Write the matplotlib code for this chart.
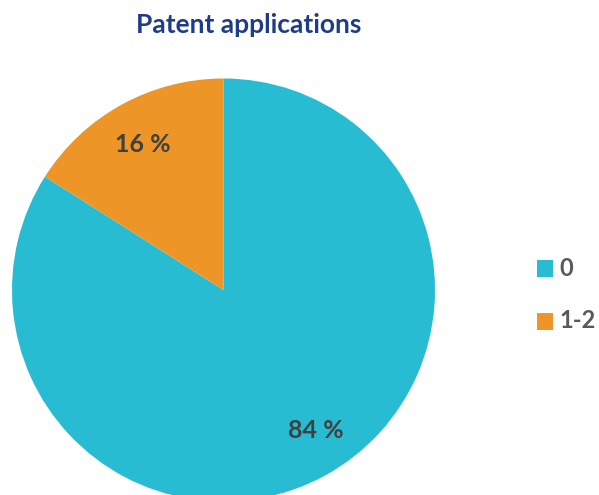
import matplotlib.pyplot as plt
from matplotlib.patches import Rectangle

categories = ['0', '1-2']
shares = [84, 16]
colors = ['#27BCD1', '#EE9527']

plt.rcParams['font.family'] = ['Lato', 'DejaVu Sans']

fig = plt.figure(figsize=(5.99, 4.95), dpi=100)
ax = fig.add_axes([0, 0, 1, 1])

ax.pie(shares, colors=colors, startangle=90, counterclock=False,
       center=(223.5, 205), radius=211.5, frame=True)
ax.set_xlim(0, 599)
ax.set_ylim(0, 495)
ax.set_aspect('equal')
ax.axis('off')

ax.text(143, 350, f'{shares[1]} %', ha='center', va='center', fontsize=18,
        fontweight='bold', color='#404040')
ax.text(316, 65, f'{shares[0]} %', ha='center', va='center', fontsize=18,
        fontweight='bold', color='#404040')

ax.text(249, 470, 'Patent applications', ha='center', va='center',
        fontsize=19, fontweight='bold', color='#1F3C88')

# legend drawn by hand so it sits where the reference has it
for i, (lab, c) in enumerate(zip(categories, colors)):
    yc = 227 - i * 53
    ax.add_patch(Rectangle((537, yc - 8.5), 16, 17, facecolor=c, edgecolor='none'))
    ax.text(559, yc, lab, ha='left', va='center', fontsize=17,
            fontweight='bold', color='#595959')

fig.savefig('out.png', dpi=100)
